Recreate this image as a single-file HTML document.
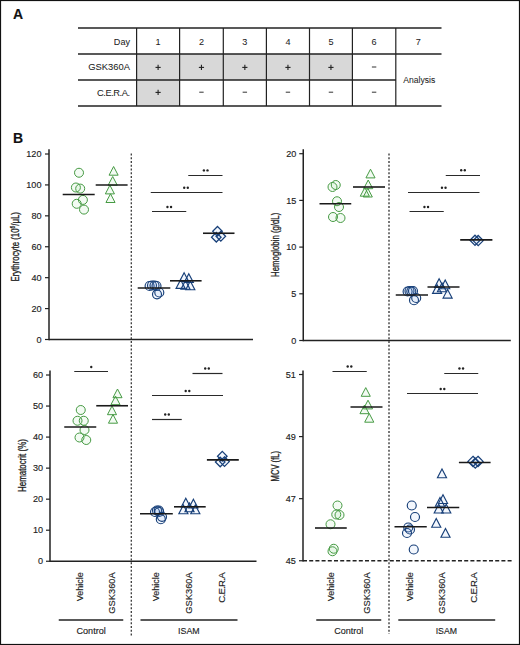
<!DOCTYPE html>
<html><head><meta charset="utf-8"><style>
html,body{margin:0;padding:0;background:#fff;}
body{width:520px;height:645px;overflow:hidden;}
svg{display:block;}
text{font-family:"Liberation Sans",sans-serif;stroke:#222;stroke-width:0.14px;}
text.tb{stroke-width:0.04px;}
</style></head><body>
<svg width="520" height="645" viewBox="0 0 520 645">
<rect x="0" y="0" width="520" height="645" fill="#fff"/>
<rect x="0.5" y="0.5" width="519" height="644" fill="none" stroke="#111" stroke-width="1.2"/>
<text x="12.9" y="18.5" font-size="14" text-anchor="start" font-weight="bold" fill="#111" >A</text>
<rect x="136.6" y="54" width="43.0" height="26" fill="#d8d8d8"/>
<rect x="179.6" y="54" width="43.70000000000002" height="26" fill="#d8d8d8"/>
<rect x="223.3" y="54" width="43.099999999999966" height="26" fill="#d8d8d8"/>
<rect x="266.4" y="54" width="43.10000000000002" height="26" fill="#d8d8d8"/>
<rect x="309.5" y="54" width="42.89999999999998" height="26" fill="#d8d8d8"/>
<rect x="136.6" y="80" width="43.0" height="26" fill="#d8d8d8"/>
<line x1="78" y1="28" x2="441.5" y2="28" stroke="#222" stroke-width="1.5" />
<line x1="78" y1="54" x2="441.5" y2="54" stroke="#222" stroke-width="1.3" />
<line x1="78" y1="80" x2="396" y2="80" stroke="#222" stroke-width="1.3" />
<line x1="78" y1="106" x2="441.5" y2="106" stroke="#222" stroke-width="1.5" />
<line x1="136.6" y1="28" x2="136.6" y2="106" stroke="#222" stroke-width="1.2" />
<line x1="179.6" y1="28" x2="179.6" y2="106" stroke="#222" stroke-width="1.2" />
<line x1="223.3" y1="28" x2="223.3" y2="106" stroke="#222" stroke-width="1.2" />
<line x1="266.4" y1="28" x2="266.4" y2="106" stroke="#222" stroke-width="1.2" />
<line x1="309.5" y1="28" x2="309.5" y2="106" stroke="#222" stroke-width="1.2" />
<line x1="352.4" y1="28" x2="352.4" y2="106" stroke="#222" stroke-width="1.2" />
<line x1="395.8" y1="28" x2="395.8" y2="106" stroke="#222" stroke-width="1.2" />
<text x="130" y="44.5" font-size="9.1" text-anchor="end" font-weight="normal" fill="#222" class="tb">Day</text>
<text class="tb" x="130" y="69.8" font-size="9.4" text-anchor="end" fill="#222" textLength="41.8" lengthAdjust="spacingAndGlyphs">GSK360A</text>
<text class="tb" x="130" y="95.5" font-size="9.3" text-anchor="end" fill="#222" textLength="33" lengthAdjust="spacing">C.E.R.A.</text>
<text x="158.1" y="44.5" font-size="9.1" text-anchor="middle" font-weight="normal" fill="#222" class="tb">1</text>
<text x="201.45" y="44.5" font-size="9.1" text-anchor="middle" font-weight="normal" fill="#222" class="tb">2</text>
<text x="244.85" y="44.5" font-size="9.1" text-anchor="middle" font-weight="normal" fill="#222" class="tb">3</text>
<text x="287.95" y="44.5" font-size="9.1" text-anchor="middle" font-weight="normal" fill="#222" class="tb">4</text>
<text x="330.95" y="44.5" font-size="9.1" text-anchor="middle" font-weight="normal" fill="#222" class="tb">5</text>
<text x="374.1" y="44.5" font-size="9.1" text-anchor="middle" font-weight="normal" fill="#222" class="tb">6</text>
<text x="418.4" y="44.5" font-size="9.1" text-anchor="middle" font-weight="normal" fill="#222" class="tb">7</text>
<line x1="155.5" y1="67.4" x2="160.7" y2="67.4" stroke="#222" stroke-width="1.1" />
<line x1="158.1" y1="64.80000000000001" x2="158.1" y2="70.0" stroke="#222" stroke-width="1.1" />
<line x1="198.85" y1="67.4" x2="204.04999999999998" y2="67.4" stroke="#222" stroke-width="1.1" />
<line x1="201.45" y1="64.80000000000001" x2="201.45" y2="70.0" stroke="#222" stroke-width="1.1" />
<line x1="242.25" y1="67.4" x2="247.45" y2="67.4" stroke="#222" stroke-width="1.1" />
<line x1="244.85" y1="64.80000000000001" x2="244.85" y2="70.0" stroke="#222" stroke-width="1.1" />
<line x1="285.34999999999997" y1="67.4" x2="290.55" y2="67.4" stroke="#222" stroke-width="1.1" />
<line x1="287.95" y1="64.80000000000001" x2="287.95" y2="70.0" stroke="#222" stroke-width="1.1" />
<line x1="328.34999999999997" y1="67.4" x2="333.55" y2="67.4" stroke="#222" stroke-width="1.1" />
<line x1="330.95" y1="64.80000000000001" x2="330.95" y2="70.0" stroke="#222" stroke-width="1.1" />
<line x1="371.90000000000003" y1="67" x2="376.3" y2="67" stroke="#333" stroke-width="1.0" />
<line x1="155.5" y1="92.4" x2="160.7" y2="92.4" stroke="#222" stroke-width="1.1" />
<line x1="158.1" y1="89.80000000000001" x2="158.1" y2="95.0" stroke="#222" stroke-width="1.1" />
<line x1="199.25" y1="92.2" x2="203.64999999999998" y2="92.2" stroke="#333" stroke-width="1.0" />
<line x1="242.65" y1="92.2" x2="247.04999999999998" y2="92.2" stroke="#333" stroke-width="1.0" />
<line x1="285.75" y1="92.2" x2="290.15" y2="92.2" stroke="#333" stroke-width="1.0" />
<line x1="328.75" y1="92.2" x2="333.15" y2="92.2" stroke="#333" stroke-width="1.0" />
<line x1="371.90000000000003" y1="92.2" x2="376.3" y2="92.2" stroke="#333" stroke-width="1.0" />
<text class="tb" x="419.2" y="82.6" font-size="9.2" text-anchor="middle" fill="#222" textLength="32" lengthAdjust="spacingAndGlyphs">Analysis</text>
<text x="13.1" y="142.7" font-size="14" text-anchor="start" font-weight="bold" fill="#111" >B</text>
<line x1="49" y1="149.3" x2="49" y2="340.2" stroke="#222" stroke-width="1.5" />
<line x1="45" y1="339.5" x2="49" y2="339.5" stroke="#222" stroke-width="1.2" />
<text x="41.5" y="342.7" font-size="9.1" text-anchor="end" font-weight="normal" fill="#222" >0</text>
<line x1="45" y1="308.584" x2="49" y2="308.584" stroke="#222" stroke-width="1.2" />
<text x="41.5" y="311.784" font-size="9.1" text-anchor="end" font-weight="normal" fill="#222" >20</text>
<line x1="45" y1="277.668" x2="49" y2="277.668" stroke="#222" stroke-width="1.2" />
<text x="41.5" y="280.868" font-size="9.1" text-anchor="end" font-weight="normal" fill="#222" >40</text>
<line x1="45" y1="246.752" x2="49" y2="246.752" stroke="#222" stroke-width="1.2" />
<text x="41.5" y="249.952" font-size="9.1" text-anchor="end" font-weight="normal" fill="#222" >60</text>
<line x1="45" y1="215.836" x2="49" y2="215.836" stroke="#222" stroke-width="1.2" />
<text x="41.5" y="219.036" font-size="9.1" text-anchor="end" font-weight="normal" fill="#222" >80</text>
<line x1="45" y1="184.92" x2="49" y2="184.92" stroke="#222" stroke-width="1.2" />
<text x="41.5" y="188.11999999999998" font-size="9.1" text-anchor="end" font-weight="normal" fill="#222" >100</text>
<line x1="45" y1="154.004" x2="49" y2="154.004" stroke="#222" stroke-width="1.2" />
<text x="41.5" y="157.20399999999998" font-size="9.1" text-anchor="end" font-weight="normal" fill="#222" >120</text>
<line x1="49" y1="339.5" x2="253" y2="339.5" stroke="#222" stroke-width="1.5" />
<text transform="translate(18.6,246.8) rotate(-90)" font-size="10.3" text-anchor="middle" fill="#222" textLength="69.5" lengthAdjust="spacingAndGlyphs" style="stroke-width:0.3px">Erythrocyte (10<tspan font-size="6.5" dy="-3.5">6</tspan><tspan dy="3.5">/μL)</tspan></text>
<circle cx="79" cy="172.75" r="4.5" fill="rgba(90,200,90,0.07)" stroke="#469a43" stroke-width="1.0"/>
<circle cx="75.9" cy="187.5" r="4.5" fill="rgba(90,200,90,0.07)" stroke="#469a43" stroke-width="1.0"/>
<circle cx="80.2" cy="188.6" r="4.5" fill="rgba(90,200,90,0.07)" stroke="#469a43" stroke-width="1.0"/>
<circle cx="82.9" cy="199.9" r="4.5" fill="rgba(90,200,90,0.07)" stroke="#469a43" stroke-width="1.0"/>
<circle cx="76.7" cy="203.8" r="4.5" fill="rgba(90,200,90,0.07)" stroke="#469a43" stroke-width="1.0"/>
<circle cx="84" cy="209.6" r="4.5" fill="rgba(90,200,90,0.07)" stroke="#469a43" stroke-width="1.0"/>
<line x1="62.7" y1="194.5" x2="94.7" y2="194.5" stroke="#1a1a1a" stroke-width="1.6" />
<path d="M113.6,166.5 L118.14999999999999,175.2 L109.05,175.2 Z" fill="rgba(90,200,90,0.07)" stroke="#469a43" stroke-width="1.0" stroke-linejoin="miter"/>
<path d="M112.7,176.5 L117.25,185.2 L108.15,185.2 Z" fill="rgba(90,200,90,0.07)" stroke="#469a43" stroke-width="1.0" stroke-linejoin="miter"/>
<path d="M109.9,185.2 L114.45,193.89999999999998 L105.35000000000001,193.89999999999998 Z" fill="rgba(90,200,90,0.07)" stroke="#469a43" stroke-width="1.0" stroke-linejoin="miter"/>
<path d="M110.5,193.8 L115.05,202.5 L105.95,202.5 Z" fill="rgba(90,200,90,0.07)" stroke="#469a43" stroke-width="1.0" stroke-linejoin="miter"/>
<line x1="95.7" y1="185" x2="127.6" y2="185" stroke="#1a1a1a" stroke-width="1.6" />
<circle cx="149.6" cy="286" r="4.5" fill="rgba(90,140,220,0.07)" stroke="#173f78" stroke-width="1.15"/>
<circle cx="152" cy="285.5" r="4.5" fill="rgba(90,140,220,0.07)" stroke="#173f78" stroke-width="1.15"/>
<circle cx="154.5" cy="285.5" r="4.5" fill="rgba(90,140,220,0.07)" stroke="#173f78" stroke-width="1.15"/>
<circle cx="156.5" cy="286" r="4.5" fill="rgba(90,140,220,0.07)" stroke="#173f78" stroke-width="1.15"/>
<circle cx="157" cy="294.3" r="4.5" fill="rgba(90,140,220,0.07)" stroke="#173f78" stroke-width="1.15"/>
<circle cx="159.3" cy="292.5" r="4.5" fill="rgba(90,140,220,0.07)" stroke="#173f78" stroke-width="1.15"/>
<line x1="137.7" y1="288" x2="170.3" y2="288" stroke="#1a1a1a" stroke-width="1.6" />
<path d="M184.1,272.7 L188.65,281.4 L179.54999999999998,281.4 Z" fill="rgba(90,140,220,0.07)" stroke="#173f78" stroke-width="1.15" stroke-linejoin="miter"/>
<path d="M188.8,273.7 L193.35000000000002,282.4 L184.25,282.4 Z" fill="rgba(90,140,220,0.07)" stroke="#173f78" stroke-width="1.15" stroke-linejoin="miter"/>
<path d="M180.6,279.7 L185.15,288.4 L176.04999999999998,288.4 Z" fill="rgba(90,140,220,0.07)" stroke="#173f78" stroke-width="1.15" stroke-linejoin="miter"/>
<path d="M185.5,280.5 L190.05,289.2 L180.95,289.2 Z" fill="rgba(90,140,220,0.07)" stroke="#173f78" stroke-width="1.15" stroke-linejoin="miter"/>
<path d="M190.3,281 L194.85000000000002,289.7 L185.75,289.7 Z" fill="rgba(90,140,220,0.07)" stroke="#173f78" stroke-width="1.15" stroke-linejoin="miter"/>
<line x1="170" y1="280.8" x2="201.6" y2="280.8" stroke="#1a1a1a" stroke-width="1.6" />
<path d="M217.5,226.5 L222.3,231.3 L217.5,236.10000000000002 L212.7,231.3 Z" fill="rgba(90,140,220,0.07)" stroke="#173f78" stroke-width="1.25"/>
<path d="M216.3,232.39999999999998 L221.10000000000002,237.2 L216.3,242.0 L211.5,237.2 Z" fill="rgba(90,140,220,0.07)" stroke="#173f78" stroke-width="1.25"/>
<path d="M220.8,231.5 L225.60000000000002,236.3 L220.8,241.10000000000002 L216.0,236.3 Z" fill="rgba(90,140,220,0.07)" stroke="#173f78" stroke-width="1.25"/>
<line x1="203" y1="233.25" x2="234.5" y2="233.25" stroke="#1a1a1a" stroke-width="1.6" />
<line x1="188.25" y1="175.5" x2="222.5" y2="175.5" stroke="#2a2a2a" stroke-width="1.2" />
<circle cx="203.89999999999998" cy="170.39999999999998" r="1.2" fill="#222"/>
<circle cx="207.5" cy="170.39999999999998" r="1.2" fill="#222"/>
<line x1="150.75" y1="192.5" x2="222.5" y2="192.5" stroke="#2a2a2a" stroke-width="1.2" />
<circle cx="184.2" cy="187.7" r="1.2" fill="#222"/>
<circle cx="187.8" cy="187.7" r="1.2" fill="#222"/>
<line x1="152" y1="211.5" x2="186.25" y2="211.5" stroke="#2a2a2a" stroke-width="1.2" />
<circle cx="167.45" cy="206.95" r="1.2" fill="#222"/>
<circle cx="171.05" cy="206.95" r="1.2" fill="#222"/>
<line x1="303.25" y1="149.3" x2="303.25" y2="341.2" stroke="#222" stroke-width="1.5" />
<line x1="299.25" y1="340.5" x2="303.25" y2="340.5" stroke="#222" stroke-width="1.2" />
<text x="296.3" y="343.7" font-size="9.1" text-anchor="end" font-weight="normal" fill="#222" >0</text>
<line x1="299.25" y1="293.8" x2="303.25" y2="293.8" stroke="#222" stroke-width="1.2" />
<text x="296.3" y="297.0" font-size="9.1" text-anchor="end" font-weight="normal" fill="#222" >5</text>
<line x1="299.25" y1="247.1" x2="303.25" y2="247.1" stroke="#222" stroke-width="1.2" />
<text x="296.3" y="250.29999999999998" font-size="9.1" text-anchor="end" font-weight="normal" fill="#222" >10</text>
<line x1="299.25" y1="200.4" x2="303.25" y2="200.4" stroke="#222" stroke-width="1.2" />
<text x="296.3" y="203.6" font-size="9.1" text-anchor="end" font-weight="normal" fill="#222" >15</text>
<line x1="299.25" y1="153.7" x2="303.25" y2="153.7" stroke="#222" stroke-width="1.2" />
<text x="296.3" y="156.89999999999998" font-size="9.1" text-anchor="end" font-weight="normal" fill="#222" >20</text>
<line x1="303.25" y1="340.5" x2="510.8" y2="340.5" stroke="#222" stroke-width="1.5" />
<text transform="translate(278.6,244.8) rotate(-90)" font-size="10.3" text-anchor="middle" fill="#222" textLength="64.2" lengthAdjust="spacingAndGlyphs" style="stroke-width:0.3px">Hemoglobin (g/dL)</text>
<circle cx="332.5" cy="187" r="4.5" fill="rgba(90,200,90,0.07)" stroke="#469a43" stroke-width="1.0"/>
<circle cx="335.75" cy="185" r="4.5" fill="rgba(90,200,90,0.07)" stroke="#469a43" stroke-width="1.0"/>
<circle cx="337" cy="201.25" r="4.5" fill="rgba(90,200,90,0.07)" stroke="#469a43" stroke-width="1.0"/>
<circle cx="339" cy="207" r="4.5" fill="rgba(90,200,90,0.07)" stroke="#469a43" stroke-width="1.0"/>
<circle cx="333" cy="217" r="4.5" fill="rgba(90,200,90,0.07)" stroke="#469a43" stroke-width="1.0"/>
<circle cx="340.5" cy="218" r="4.5" fill="rgba(90,200,90,0.07)" stroke="#469a43" stroke-width="1.0"/>
<line x1="319.5" y1="203.75" x2="351.25" y2="203.75" stroke="#1a1a1a" stroke-width="1.6" />
<path d="M370.5,169.2 L375.05,177.89999999999998 L365.95,177.89999999999998 Z" fill="rgba(90,200,90,0.07)" stroke="#469a43" stroke-width="1.0" stroke-linejoin="miter"/>
<path d="M368.2,180 L372.75,188.7 L363.65,188.7 Z" fill="rgba(90,200,90,0.07)" stroke="#469a43" stroke-width="1.0" stroke-linejoin="miter"/>
<path d="M364.8,187.5 L369.35,196.2 L360.25,196.2 Z" fill="rgba(90,200,90,0.07)" stroke="#469a43" stroke-width="1.0" stroke-linejoin="miter"/>
<path d="M367.8,188.3 L372.35,197.0 L363.25,197.0 Z" fill="rgba(90,200,90,0.07)" stroke="#469a43" stroke-width="1.0" stroke-linejoin="miter"/>
<line x1="353" y1="187" x2="385" y2="187" stroke="#1a1a1a" stroke-width="1.6" />
<circle cx="407.6" cy="291.5" r="4.5" fill="rgba(90,140,220,0.07)" stroke="#173f78" stroke-width="1.15"/>
<circle cx="409.5" cy="291" r="4.5" fill="rgba(90,140,220,0.07)" stroke="#173f78" stroke-width="1.15"/>
<circle cx="411.3" cy="291.3" r="4.5" fill="rgba(90,140,220,0.07)" stroke="#173f78" stroke-width="1.15"/>
<circle cx="413" cy="291" r="4.5" fill="rgba(90,140,220,0.07)" stroke="#173f78" stroke-width="1.15"/>
<circle cx="414" cy="300.2" r="4.5" fill="rgba(90,140,220,0.07)" stroke="#173f78" stroke-width="1.15"/>
<circle cx="416.2" cy="298" r="4.5" fill="rgba(90,140,220,0.07)" stroke="#173f78" stroke-width="1.15"/>
<line x1="395.75" y1="295" x2="428" y2="295" stroke="#1a1a1a" stroke-width="1.6" />
<path d="M439.1,278.7 L443.65000000000003,287.4 L434.55,287.4 Z" fill="rgba(90,140,220,0.07)" stroke="#173f78" stroke-width="1.15" stroke-linejoin="miter"/>
<path d="M445.2,280 L449.75,288.7 L440.65,288.7 Z" fill="rgba(90,140,220,0.07)" stroke="#173f78" stroke-width="1.15" stroke-linejoin="miter"/>
<path d="M437.1,284.7 L441.65000000000003,293.4 L432.55,293.4 Z" fill="rgba(90,140,220,0.07)" stroke="#173f78" stroke-width="1.15" stroke-linejoin="miter"/>
<path d="M447.6,289.4 L452.15000000000003,298.09999999999997 L443.05,298.09999999999997 Z" fill="rgba(90,140,220,0.07)" stroke="#173f78" stroke-width="1.15" stroke-linejoin="miter"/>
<path d="M442,283 L446.55,291.7 L437.45,291.7 Z" fill="rgba(90,140,220,0.07)" stroke="#173f78" stroke-width="1.15" stroke-linejoin="miter"/>
<line x1="427.5" y1="287" x2="459.5" y2="287" stroke="#1a1a1a" stroke-width="1.6" />
<path d="M475,235.20000000000002 L480.1,240.3 L475,245.4 L469.9,240.3 Z" fill="rgba(90,140,220,0.07)" stroke="#173f78" stroke-width="1.25"/>
<path d="M478.2,235.5 L483.3,240.6 L478.2,245.7 L473.09999999999997,240.6 Z" fill="rgba(90,140,220,0.07)" stroke="#173f78" stroke-width="1.25"/>
<line x1="460.2" y1="239.85" x2="492.4" y2="239.85" stroke="#1a1a1a" stroke-width="1.6" />
<line x1="445.75" y1="175.5" x2="480" y2="175.5" stroke="#2a2a2a" stroke-width="1.2" />
<circle cx="461.2" cy="170.2" r="1.2" fill="#222"/>
<circle cx="464.8" cy="170.2" r="1.2" fill="#222"/>
<line x1="408" y1="192.5" x2="479.5" y2="192.5" stroke="#2a2a2a" stroke-width="1.2" />
<circle cx="441.95" cy="187.7" r="1.2" fill="#222"/>
<circle cx="445.55" cy="187.7" r="1.2" fill="#222"/>
<line x1="409.5" y1="211.5" x2="443.75" y2="211.5" stroke="#2a2a2a" stroke-width="1.2" />
<circle cx="424.45" cy="206.95" r="1.2" fill="#222"/>
<circle cx="428.05" cy="206.95" r="1.2" fill="#222"/>
<line x1="50" y1="370.5" x2="50" y2="561.95" stroke="#222" stroke-width="1.5" />
<line x1="46" y1="561.25" x2="50" y2="561.25" stroke="#222" stroke-width="1.2" />
<text x="43" y="564.45" font-size="9.1" text-anchor="end" font-weight="normal" fill="#222" >0</text>
<line x1="46" y1="530.21" x2="50" y2="530.21" stroke="#222" stroke-width="1.2" />
<text x="43" y="533.4100000000001" font-size="9.1" text-anchor="end" font-weight="normal" fill="#222" >10</text>
<line x1="46" y1="499.17" x2="50" y2="499.17" stroke="#222" stroke-width="1.2" />
<text x="43" y="502.37" font-size="9.1" text-anchor="end" font-weight="normal" fill="#222" >20</text>
<line x1="46" y1="468.13" x2="50" y2="468.13" stroke="#222" stroke-width="1.2" />
<text x="43" y="471.33" font-size="9.1" text-anchor="end" font-weight="normal" fill="#222" >30</text>
<line x1="46" y1="437.09000000000003" x2="50" y2="437.09000000000003" stroke="#222" stroke-width="1.2" />
<text x="43" y="440.29" font-size="9.1" text-anchor="end" font-weight="normal" fill="#222" >40</text>
<line x1="46" y1="406.04999999999995" x2="50" y2="406.04999999999995" stroke="#222" stroke-width="1.2" />
<text x="43" y="409.24999999999994" font-size="9.1" text-anchor="end" font-weight="normal" fill="#222" >50</text>
<line x1="46" y1="375.01" x2="50" y2="375.01" stroke="#222" stroke-width="1.2" />
<text x="43" y="378.21" font-size="9.1" text-anchor="end" font-weight="normal" fill="#222" >60</text>
<line x1="50" y1="561.25" x2="256.5" y2="561.25" stroke="#222" stroke-width="1.5" />
<text transform="translate(25.5,465.6) rotate(-90)" font-size="10.3" text-anchor="middle" fill="#222" textLength="52.8" lengthAdjust="spacingAndGlyphs" style="stroke-width:0.3px">Hematocrit (%)</text>
<circle cx="80.75" cy="410" r="4.5" fill="rgba(90,200,90,0.07)" stroke="#469a43" stroke-width="1.0"/>
<circle cx="77.5" cy="420.75" r="4.5" fill="rgba(90,200,90,0.07)" stroke="#469a43" stroke-width="1.0"/>
<circle cx="83.75" cy="420.75" r="4.5" fill="rgba(90,200,90,0.07)" stroke="#469a43" stroke-width="1.0"/>
<circle cx="84.5" cy="430" r="4.5" fill="rgba(90,200,90,0.07)" stroke="#469a43" stroke-width="1.0"/>
<circle cx="79.5" cy="437.5" r="4.5" fill="rgba(90,200,90,0.07)" stroke="#469a43" stroke-width="1.0"/>
<circle cx="86.25" cy="440" r="4.5" fill="rgba(90,200,90,0.07)" stroke="#469a43" stroke-width="1.0"/>
<line x1="64.25" y1="427" x2="96.25" y2="427" stroke="#1a1a1a" stroke-width="1.6" />
<path d="M117.5,389 L122.05,397.7 L112.95,397.7 Z" fill="rgba(90,200,90,0.07)" stroke="#469a43" stroke-width="1.0" stroke-linejoin="miter"/>
<path d="M115.5,396 L120.05,404.7 L110.95,404.7 Z" fill="rgba(90,200,90,0.07)" stroke="#469a43" stroke-width="1.0" stroke-linejoin="miter"/>
<path d="M112,406 L116.55,414.7 L107.45,414.7 Z" fill="rgba(90,200,90,0.07)" stroke="#469a43" stroke-width="1.0" stroke-linejoin="miter"/>
<path d="M113,414.5 L117.55,423.2 L108.45,423.2 Z" fill="rgba(90,200,90,0.07)" stroke="#469a43" stroke-width="1.0" stroke-linejoin="miter"/>
<line x1="96.25" y1="405.75" x2="128" y2="405.75" stroke="#1a1a1a" stroke-width="1.6" />
<line x1="74.25" y1="371.5" x2="108" y2="371.5" stroke="#2a2a2a" stroke-width="1.2" />
<circle cx="91.25" cy="366.95" r="1.2" fill="#222"/>
<circle cx="155" cy="512" r="4.5" fill="rgba(90,140,220,0.07)" stroke="#173f78" stroke-width="1.15"/>
<circle cx="157" cy="510.5" r="4.5" fill="rgba(90,140,220,0.07)" stroke="#173f78" stroke-width="1.15"/>
<circle cx="158.8" cy="510.5" r="4.5" fill="rgba(90,140,220,0.07)" stroke="#173f78" stroke-width="1.15"/>
<circle cx="159.2" cy="512" r="4.5" fill="rgba(90,140,220,0.07)" stroke="#173f78" stroke-width="1.15"/>
<circle cx="160.8" cy="519.2" r="4.5" fill="rgba(90,140,220,0.07)" stroke="#173f78" stroke-width="1.15"/>
<circle cx="162" cy="516.8" r="4.5" fill="rgba(90,140,220,0.07)" stroke="#173f78" stroke-width="1.15"/>
<line x1="140" y1="513.8" x2="172.8" y2="513.8" stroke="#1a1a1a" stroke-width="1.6" />
<path d="M185.8,498.2 L190.35000000000002,506.9 L181.25,506.9 Z" fill="rgba(90,140,220,0.07)" stroke="#173f78" stroke-width="1.15" stroke-linejoin="miter"/>
<path d="M193.4,499.3 L197.95000000000002,508.0 L188.85,508.0 Z" fill="rgba(90,140,220,0.07)" stroke="#173f78" stroke-width="1.15" stroke-linejoin="miter"/>
<path d="M183.4,505 L187.95000000000002,513.7 L178.85,513.7 Z" fill="rgba(90,140,220,0.07)" stroke="#173f78" stroke-width="1.15" stroke-linejoin="miter"/>
<path d="M195.3,505 L199.85000000000002,513.7 L190.75,513.7 Z" fill="rgba(90,140,220,0.07)" stroke="#173f78" stroke-width="1.15" stroke-linejoin="miter"/>
<path d="M189.5,503 L194.05,511.7 L184.95,511.7 Z" fill="rgba(90,140,220,0.07)" stroke="#173f78" stroke-width="1.15" stroke-linejoin="miter"/>
<line x1="174" y1="506.8" x2="205.7" y2="506.8" stroke="#1a1a1a" stroke-width="1.6" />
<path d="M222.3,451.4 L227.10000000000002,456.2 L222.3,461.0 L217.5,456.2 Z" fill="rgba(90,140,220,0.07)" stroke="#173f78" stroke-width="1.25"/>
<path d="M220.2,457.2 L225.0,462 L220.2,466.8 L215.39999999999998,462 Z" fill="rgba(90,140,220,0.07)" stroke="#173f78" stroke-width="1.25"/>
<path d="M224.5,456.8 L229.3,461.6 L224.5,466.40000000000003 L219.7,461.6 Z" fill="rgba(90,140,220,0.07)" stroke="#173f78" stroke-width="1.25"/>
<line x1="206.9" y1="459.9" x2="238.8" y2="459.9" stroke="#1a1a1a" stroke-width="1.6" />
<line x1="192.5" y1="373.5" x2="222.5" y2="373.5" stroke="#2a2a2a" stroke-width="1.2" />
<circle cx="205.2" cy="368.45" r="1.2" fill="#222"/>
<circle cx="208.8" cy="368.45" r="1.2" fill="#222"/>
<line x1="152" y1="395.5" x2="223" y2="395.5" stroke="#2a2a2a" stroke-width="1.2" />
<circle cx="185.7" cy="390.95" r="1.2" fill="#222"/>
<circle cx="189.3" cy="390.95" r="1.2" fill="#222"/>
<line x1="152" y1="419.5" x2="181.75" y2="419.5" stroke="#2a2a2a" stroke-width="1.2" />
<circle cx="165.2" cy="414.45" r="1.2" fill="#222"/>
<circle cx="168.8" cy="414.45" r="1.2" fill="#222"/>
<line x1="303" y1="370.5" x2="303" y2="561.45" stroke="#222" stroke-width="1.5" />
<line x1="299" y1="560.75" x2="303" y2="560.75" stroke="#222" stroke-width="1.2" />
<text x="295.8" y="563.95" font-size="9.1" text-anchor="end" font-weight="normal" fill="#222" >45</text>
<line x1="299" y1="498.67" x2="303" y2="498.67" stroke="#222" stroke-width="1.2" />
<text x="295.8" y="501.87" font-size="9.1" text-anchor="end" font-weight="normal" fill="#222" >47</text>
<line x1="299" y1="436.59000000000003" x2="303" y2="436.59000000000003" stroke="#222" stroke-width="1.2" />
<text x="295.8" y="439.79" font-size="9.1" text-anchor="end" font-weight="normal" fill="#222" >49</text>
<line x1="299" y1="374.51" x2="303" y2="374.51" stroke="#222" stroke-width="1.2" />
<text x="295.8" y="377.71" font-size="9.1" text-anchor="end" font-weight="normal" fill="#222" >51</text>
<line x1="303" y1="560.75" x2="512" y2="560.75" stroke="#222" stroke-width="1.4" stroke-dasharray="4 2.2"/>
<text transform="translate(278.7,466.2) rotate(-90)" font-size="10.3" text-anchor="middle" fill="#222" textLength="30.4" lengthAdjust="spacingAndGlyphs" style="stroke-width:0.3px">MCV (fL)</text>
<circle cx="337.5" cy="505.5" r="4.5" fill="rgba(90,200,90,0.07)" stroke="#469a43" stroke-width="1.0"/>
<circle cx="336.25" cy="514.5" r="4.5" fill="rgba(90,200,90,0.07)" stroke="#469a43" stroke-width="1.0"/>
<circle cx="339.5" cy="515" r="4.5" fill="rgba(90,200,90,0.07)" stroke="#469a43" stroke-width="1.0"/>
<circle cx="330.5" cy="524.25" r="4.5" fill="rgba(90,200,90,0.07)" stroke="#469a43" stroke-width="1.0"/>
<circle cx="333.75" cy="548.75" r="4.5" fill="rgba(90,200,90,0.07)" stroke="#469a43" stroke-width="1.0"/>
<circle cx="332.5" cy="551.25" r="4.5" fill="rgba(90,200,90,0.07)" stroke="#469a43" stroke-width="1.0"/>
<line x1="315" y1="528" x2="346.75" y2="528" stroke="#1a1a1a" stroke-width="1.6" />
<path d="M365.75,387.6 L370.3,396.3 L361.2,396.3 Z" fill="rgba(90,200,90,0.07)" stroke="#469a43" stroke-width="1.0" stroke-linejoin="miter"/>
<path d="M368,400.2 L372.55,408.9 L363.45,408.9 Z" fill="rgba(90,200,90,0.07)" stroke="#469a43" stroke-width="1.0" stroke-linejoin="miter"/>
<path d="M364.5,405 L369.05,413.7 L359.95,413.7 Z" fill="rgba(90,200,90,0.07)" stroke="#469a43" stroke-width="1.0" stroke-linejoin="miter"/>
<path d="M369.25,413.5 L373.8,422.2 L364.7,422.2 Z" fill="rgba(90,200,90,0.07)" stroke="#469a43" stroke-width="1.0" stroke-linejoin="miter"/>
<line x1="350.5" y1="407" x2="382.5" y2="407" stroke="#1a1a1a" stroke-width="1.6" />
<line x1="332.5" y1="371.5" x2="366.75" y2="371.5" stroke="#2a2a2a" stroke-width="1.2" />
<circle cx="347.7" cy="366.45" r="1.2" fill="#222"/>
<circle cx="351.3" cy="366.45" r="1.2" fill="#222"/>
<circle cx="411.75" cy="505.5" r="4.5" fill="rgba(90,140,220,0.07)" stroke="#173f78" stroke-width="1.15"/>
<circle cx="415" cy="517" r="4.5" fill="rgba(90,140,220,0.07)" stroke="#173f78" stroke-width="1.15"/>
<circle cx="408.25" cy="527.5" r="4.5" fill="rgba(90,140,220,0.07)" stroke="#173f78" stroke-width="1.15"/>
<circle cx="410" cy="529.5" r="4.5" fill="rgba(90,140,220,0.07)" stroke="#173f78" stroke-width="1.15"/>
<circle cx="407" cy="533" r="4.5" fill="rgba(90,140,220,0.07)" stroke="#173f78" stroke-width="1.15"/>
<circle cx="413.75" cy="549.5" r="4.5" fill="rgba(90,140,220,0.07)" stroke="#173f78" stroke-width="1.15"/>
<line x1="394.5" y1="526.75" x2="426.75" y2="526.75" stroke="#1a1a1a" stroke-width="1.6" />
<path d="M442,469 L446.55,477.7 L437.45,477.7 Z" fill="rgba(90,140,220,0.07)" stroke="#173f78" stroke-width="1.15" stroke-linejoin="miter"/>
<path d="M443,494.75 L447.55,503.45 L438.45,503.45 Z" fill="rgba(90,140,220,0.07)" stroke="#173f78" stroke-width="1.15" stroke-linejoin="miter"/>
<path d="M440,497.5 L444.55,506.2 L435.45,506.2 Z" fill="rgba(90,140,220,0.07)" stroke="#173f78" stroke-width="1.15" stroke-linejoin="miter"/>
<path d="M438.75,504.25 L443.3,512.95 L434.2,512.95 Z" fill="rgba(90,140,220,0.07)" stroke="#173f78" stroke-width="1.15" stroke-linejoin="miter"/>
<path d="M446.25,504.25 L450.8,512.95 L441.7,512.95 Z" fill="rgba(90,140,220,0.07)" stroke="#173f78" stroke-width="1.15" stroke-linejoin="miter"/>
<path d="M436.25,518.5 L440.8,527.2 L431.7,527.2 Z" fill="rgba(90,140,220,0.07)" stroke="#173f78" stroke-width="1.15" stroke-linejoin="miter"/>
<path d="M445.5,528.5 L450.05,537.2 L440.95,537.2 Z" fill="rgba(90,140,220,0.07)" stroke="#173f78" stroke-width="1.15" stroke-linejoin="miter"/>
<line x1="427" y1="507.5" x2="459.25" y2="507.5" stroke="#1a1a1a" stroke-width="1.6" />
<path d="M473,456.29999999999995 L478.1,461.4 L473,466.5 L467.9,461.4 Z" fill="rgba(90,140,220,0.07)" stroke="#173f78" stroke-width="1.25"/>
<path d="M478,456.29999999999995 L483.1,461.4 L478,466.5 L472.9,461.4 Z" fill="rgba(90,140,220,0.07)" stroke="#173f78" stroke-width="1.25"/>
<path d="M475.3,458.2 L480.3,463.2 L475.3,468.2 L470.3,463.2 Z" fill="rgba(90,140,220,0.07)" stroke="#173f78" stroke-width="1.25"/>
<line x1="458.9" y1="462.5" x2="490.6" y2="462.5" stroke="#1a1a1a" stroke-width="1.6" />
<line x1="444.25" y1="373.5" x2="478.25" y2="373.5" stroke="#2a2a2a" stroke-width="1.2" />
<circle cx="459.45" cy="368.45" r="1.2" fill="#222"/>
<circle cx="463.05" cy="368.45" r="1.2" fill="#222"/>
<line x1="407" y1="393.5" x2="478" y2="393.5" stroke="#2a2a2a" stroke-width="1.2" />
<circle cx="440.7" cy="388.95" r="1.2" fill="#222"/>
<circle cx="444.3" cy="388.95" r="1.2" fill="#222"/>
<line x1="131.3" y1="153.6" x2="131.3" y2="636" stroke="#3a3a3a" stroke-width="1.3" stroke-dasharray="1.8 1.95"/>
<line x1="389.0" y1="153.6" x2="389.0" y2="634" stroke="#555" stroke-width="1.6" stroke-dasharray="1.8 1.95"/>
<text transform="translate(82.5,572.3) rotate(-90)" font-size="9.6" text-anchor="end" fill="#222" textLength="29" lengthAdjust="spacingAndGlyphs" >Vehicle</text>
<text transform="translate(114.5,572.3) rotate(-90)" font-size="9.6" text-anchor="end" fill="#222" textLength="41.4" lengthAdjust="spacingAndGlyphs" >GSK360A</text>
<text transform="translate(158.8,572.3) rotate(-90)" font-size="9.6" text-anchor="end" fill="#222" textLength="29" lengthAdjust="spacingAndGlyphs" >Vehicle</text>
<text transform="translate(192.4,572.3) rotate(-90)" font-size="9.6" text-anchor="end" fill="#222" textLength="41.4" lengthAdjust="spacingAndGlyphs" >GSK360A</text>
<text transform="translate(225.2,572.3) rotate(-90)" font-size="9.7" text-anchor="end" fill="#222" textLength="30.4" lengthAdjust="spacing" >C.E.R.A</text>
<text transform="translate(334.3,572.3) rotate(-90)" font-size="9.6" text-anchor="end" fill="#222" textLength="29" lengthAdjust="spacingAndGlyphs" >Vehicle</text>
<text transform="translate(370,572.3) rotate(-90)" font-size="9.6" text-anchor="end" fill="#222" textLength="41.4" lengthAdjust="spacingAndGlyphs" >GSK360A</text>
<text transform="translate(413.2,572.3) rotate(-90)" font-size="9.6" text-anchor="end" fill="#222" textLength="29" lengthAdjust="spacingAndGlyphs" >Vehicle</text>
<text transform="translate(444.7,572.3) rotate(-90)" font-size="9.6" text-anchor="end" fill="#222" textLength="41.4" lengthAdjust="spacingAndGlyphs" >GSK360A</text>
<text transform="translate(476.6,572.3) rotate(-90)" font-size="9.7" text-anchor="end" fill="#222" textLength="30.4" lengthAdjust="spacing" >C.E.R.A</text>
<line x1="58.75" y1="620" x2="123.25" y2="620" stroke="#222" stroke-width="1.3" />
<line x1="140.5" y1="620" x2="237.5" y2="620" stroke="#222" stroke-width="1.3" />
<line x1="316.25" y1="620" x2="381.25" y2="620" stroke="#222" stroke-width="1.3" />
<line x1="398.3" y1="620" x2="495.2" y2="620" stroke="#222" stroke-width="1.3" />
<text x="91.15" y="634.2" font-size="9.6" text-anchor="middle" fill="#222" textLength="29.3" lengthAdjust="spacingAndGlyphs">Control</text>
<text x="188.85" y="634.2" font-size="9.6" text-anchor="middle" fill="#222" textLength="21.5" lengthAdjust="spacingAndGlyphs">ISAM</text>
<text x="348.65" y="634.2" font-size="9.6" text-anchor="middle" fill="#222" textLength="29" lengthAdjust="spacingAndGlyphs">Control</text>
<text x="446.35" y="634.2" font-size="9.6" text-anchor="middle" fill="#222" textLength="21.3" lengthAdjust="spacingAndGlyphs">ISAM</text>
</svg>
</body></html>
